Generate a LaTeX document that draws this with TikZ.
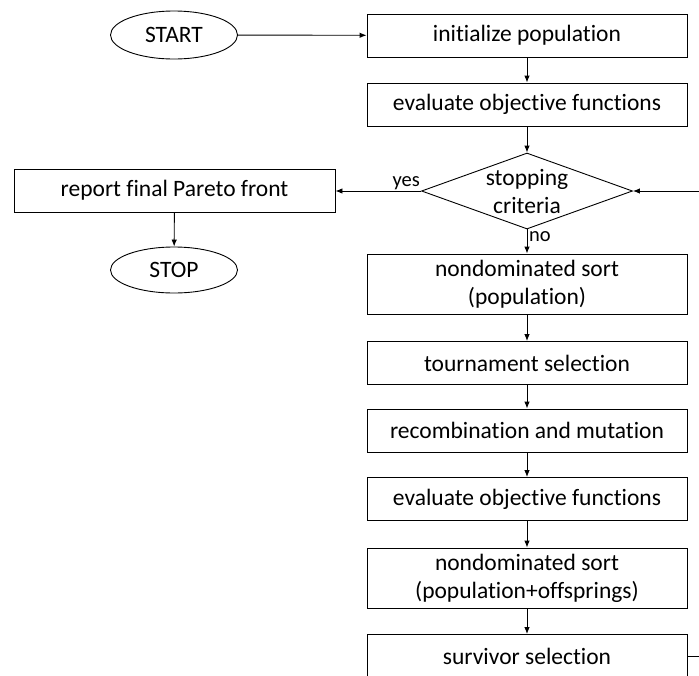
\documentclass[tikz,border=0pt]{standalone}
\usepackage{fontspec}
\setmainfont{Carlito}[Ligatures=CommonOff]
\usetikzlibrary{shapes.geometric,arrows.meta}
\begin{document}
\begin{tikzpicture}[x=1pt,y=-1pt,
  every node/.style={font=\fontsize{23.5}{28}\selectfont},
  procbox/.style={draw, line width=0.9pt, rectangle, minimum width=320pt, minimum height=43pt, inner sep=0pt, align=center},
  tallbox/.style={procbox, minimum height=60pt},
  termnode/.style={draw, line width=0.9pt, ellipse, minimum width=127pt, minimum height=48pt, inner sep=0pt},
  flow/.style={line width=0.9pt, -{Latex[length=7pt,width=5.5pt]}},
  plain/.style={line width=0.9pt},
  lbl/.style={inner sep=1pt, font=\fontsize{20.5}{22}\selectfont}
]
\useasboundingbox (0,0) rectangle (699,675);
\clip (0,0) rectangle (699,675);
\node[termnode] (start) at (174,35) {START};
\node[procbox] (init) at (527,35.5) {initialize population};
\node[procbox] (eval1) at (527,104.5) {evaluate objective functions};
\node[draw, line width=0.9pt, diamond, minimum width=211pt, minimum height=76pt, inner sep=0pt] (dec) at (527,191) {};
\node[align=center, inner sep=0pt] (dectext) at (527,191.5) {stopping\\criteria};
\node[procbox, minimum width=321pt] (report) at (174.5,190.5) {report final Pareto front};
\node[termnode, minimum height=46pt] (stop) at (174,270) {STOP};
\node[tallbox] (nds1) at (527,284) {nondominated sort\\(population)};
\node[procbox] (tour) at (527,363) {tournament selection};
\node[procbox] (recomb) at (527,430.5) {recombination and mutation};
\node[procbox] (eval2) at (527,499) {evaluate objective functions};
\node[tallbox] (nds2) at (527,578) {nondominated sort\\(population+offsprings)};
\node[procbox] (surv) at (527,656) {survivor selection};
\coordinate (loopin) at (712,191);
\coordinate (loopout) at (712,656);

\draw[flow] (start) -- (init);
\draw[flow] (init) -- (eval1);
\draw[flow] (eval1) -- (dec);
\draw[flow] (dec.west) -- (report.east |- dec.west);
\node[lbl, anchor=south east] (yes) at (dec.west) {yes};
\draw[flow] (report) -- (stop);
\draw[flow] (dec.south) -- (nds1.north);
\node[lbl, anchor=north west, inner sep=2pt] (no) at (dec.south) {no};
\draw[flow] (nds1) -- (tour);
\draw[flow] (tour) -- (recomb);
\draw[flow] (recomb) -- (eval2);
\draw[flow] (eval2) -- (nds2);
\draw[flow] (nds2) -- (surv);
\draw[plain] (surv.east) -- (loopout);
\draw[flow] (loopin) -- (dec.east);
\end{tikzpicture}
\end{document}
